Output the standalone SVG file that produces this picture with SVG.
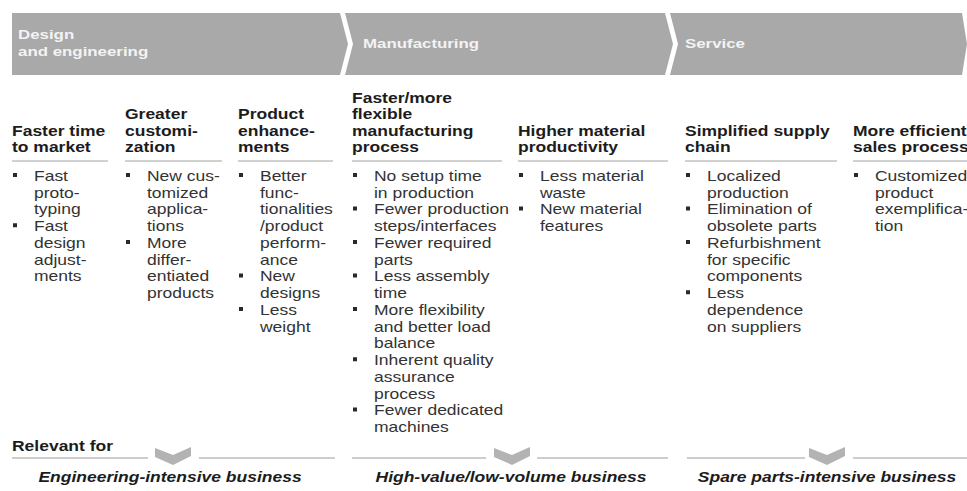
<svg xmlns="http://www.w3.org/2000/svg" width="967" height="491" viewBox="0 0 967 491">
  <style>
    .band { fill: #a9a9a9; }
    .stage { font-family: "Liberation Sans", Arial, sans-serif; font-size: 13.5px; font-weight: bold; fill: #f3f3f3; }
    .h { font-family: "Liberation Sans", Arial, sans-serif; font-size: 14px; font-weight: bold; fill: #1c1c1c; }
    .t { font-family: "Liberation Sans", Arial, sans-serif; font-size: 14px; fill: #333333; }
    .b { fill: #2a2a2a; }
    .rule { stroke: #a3a3a3; stroke-width: 1; }
    .base { stroke: #9a9a9a; stroke-width: 1; }
    .chev { fill: #b3b3b3; }
    .biz { font-family: "Liberation Sans", Arial, sans-serif; font-size: 14px; font-weight: bold; font-style: italic; fill: #1c1c1c; text-anchor: middle; }
  </style>

  <!-- value chain stages -->
  <g id="stage-design">
    <polygon class="band" points="12,13 340,13 348,44 340,75 12,75"/>
    <text class="stage" transform="translate(18 39) scale(1.25 1)">Design</text>
    <text class="stage" transform="translate(18 56) scale(1.25 1)">and engineering</text>
  </g>
  <g id="stage-manufacturing">
    <polygon class="band" points="345,13 665,13 673,44 665,75 345,75 353,44"/>
    <text class="stage" transform="translate(363 48) scale(1.25 1)">Manufacturing</text>
  </g>
  <g id="stage-service">
    <polygon class="band" points="670,13 962,13 967,44 962,75 670,75 678,44"/>
    <text class="stage" transform="translate(685 48) scale(1.25 1)">Service</text>
  </g>

  <!-- benefit columns -->
  <g id="col-time-to-market">
    <line class="rule" x1="12" y1="161" x2="108" y2="161"/>
    <g transform="translate(12 0) scale(1.25 1)">
      <text class="h"><tspan x="0" y="136">Faster time</tspan><tspan x="0" y="152.5">to market</tspan></text>
      <rect class="b" x="0.8" y="173" width="3.2" height="4"/>
      <rect class="b" x="0.8" y="223.25" width="3.2" height="4"/>
      <text class="t"><tspan x="17.6" y="181">Fast</tspan><tspan x="17.6" y="197.75">proto-</tspan><tspan x="17.6" y="214.5">typing</tspan><tspan x="17.6" y="231.25">Fast</tspan><tspan x="17.6" y="248">design</tspan><tspan x="17.6" y="264.75">adjust-</tspan><tspan x="17.6" y="281.5">ments</tspan></text>
    </g>
  </g>

  <g id="col-customization">
    <line class="rule" x1="125" y1="161" x2="222" y2="161"/>
    <g transform="translate(125 0) scale(1.25 1)">
      <text class="h"><tspan x="0" y="119.5">Greater</tspan><tspan x="0" y="136">customi-</tspan><tspan x="0" y="152.5">zation</tspan></text>
      <rect class="b" x="0.8" y="173" width="3.2" height="4"/>
      <rect class="b" x="0.8" y="240" width="3.2" height="4"/>
      <text class="t"><tspan x="17.6" y="181">New cus-</tspan><tspan x="17.6" y="197.75">tomized</tspan><tspan x="17.6" y="214.5">applica-</tspan><tspan x="17.6" y="231.25">tions</tspan><tspan x="17.6" y="248">More</tspan><tspan x="17.6" y="264.75">differ-</tspan><tspan x="17.6" y="281.5">entiated</tspan><tspan x="17.6" y="298.25">products</tspan></text>
    </g>
  </g>

  <g id="col-product-enhancements">
    <line class="rule" x1="238" y1="161" x2="333" y2="161"/>
    <g transform="translate(238 0) scale(1.25 1)">
      <text class="h"><tspan x="0" y="119.5">Product</tspan><tspan x="0" y="136">enhance-</tspan><tspan x="0" y="152.5">ments</tspan></text>
      <rect class="b" x="0.8" y="173" width="3.2" height="4"/>
      <rect class="b" x="0.8" y="273.5" width="3.2" height="4"/>
      <rect class="b" x="0.8" y="307" width="3.2" height="4"/>
      <text class="t"><tspan x="17.6" y="181">Better</tspan><tspan x="17.6" y="197.75">func-</tspan><tspan x="17.6" y="214.5">tionalities</tspan><tspan x="17.6" y="231.25">/product</tspan><tspan x="17.6" y="248">perform-</tspan><tspan x="17.6" y="264.75">ance</tspan><tspan x="17.6" y="281.5">New</tspan><tspan x="17.6" y="298.25">designs</tspan><tspan x="17.6" y="315">Less</tspan><tspan x="17.6" y="331.75">weight</tspan></text>
    </g>
  </g>

  <g id="col-flexible-manufacturing">
    <line class="rule" x1="352" y1="161" x2="502" y2="161"/>
    <g transform="translate(352 0) scale(1.25 1)">
      <text class="h"><tspan x="0" y="103">Faster/more</tspan><tspan x="0" y="119.5">flexible</tspan><tspan x="0" y="136">manufacturing</tspan><tspan x="0" y="152.5">process</tspan></text>
      <rect class="b" x="0.8" y="173" width="3.2" height="4"/>
      <rect class="b" x="0.8" y="206.5" width="3.2" height="4"/>
      <rect class="b" x="0.8" y="240" width="3.2" height="4"/>
      <rect class="b" x="0.8" y="273.5" width="3.2" height="4"/>
      <rect class="b" x="0.8" y="307" width="3.2" height="4"/>
      <rect class="b" x="0.8" y="357.25" width="3.2" height="4"/>
      <rect class="b" x="0.8" y="407.5" width="3.2" height="4"/>
      <text class="t"><tspan x="17.6" y="181">No setup time</tspan><tspan x="17.6" y="197.75">in production</tspan><tspan x="17.6" y="214.5">Fewer production</tspan><tspan x="17.6" y="231.25">steps/interfaces</tspan><tspan x="17.6" y="248">Fewer required</tspan><tspan x="17.6" y="264.75">parts</tspan><tspan x="17.6" y="281.5">Less assembly</tspan><tspan x="17.6" y="298.25">time</tspan><tspan x="17.6" y="315">More flexibility</tspan><tspan x="17.6" y="331.75">and better load</tspan><tspan x="17.6" y="348.5">balance</tspan><tspan x="17.6" y="365.25">Inherent quality</tspan><tspan x="17.6" y="382">assurance</tspan><tspan x="17.6" y="398.75">process</tspan><tspan x="17.6" y="415.5">Fewer dedicated</tspan><tspan x="17.6" y="432.25">machines</tspan></text>
    </g>
  </g>

  <g id="col-material-productivity">
    <line class="rule" x1="518" y1="161" x2="668" y2="161"/>
    <g transform="translate(518 0) scale(1.25 1)">
      <text class="h"><tspan x="0" y="136">Higher material</tspan><tspan x="0" y="152.5">productivity</tspan></text>
      <rect class="b" x="0.8" y="173" width="3.2" height="4"/>
      <rect class="b" x="0.8" y="206.5" width="3.2" height="4"/>
      <text class="t"><tspan x="17.6" y="181">Less material</tspan><tspan x="17.6" y="197.75">waste</tspan><tspan x="17.6" y="214.5">New material</tspan><tspan x="17.6" y="231.25">features</tspan></text>
    </g>
  </g>

  <g id="col-supply-chain">
    <line class="rule" x1="685" y1="161" x2="837" y2="161"/>
    <g transform="translate(685 0) scale(1.25 1)">
      <text class="h"><tspan x="0" y="136">Simplified supply</tspan><tspan x="0" y="152.5">chain</tspan></text>
      <rect class="b" x="0.8" y="173" width="3.2" height="4"/>
      <rect class="b" x="0.8" y="206.5" width="3.2" height="4"/>
      <rect class="b" x="0.8" y="240" width="3.2" height="4"/>
      <rect class="b" x="0.8" y="290.25" width="3.2" height="4"/>
      <text class="t"><tspan x="17.6" y="181">Localized</tspan><tspan x="17.6" y="197.75">production</tspan><tspan x="17.6" y="214.5">Elimination of</tspan><tspan x="17.6" y="231.25">obsolete parts</tspan><tspan x="17.6" y="248">Refurbishment</tspan><tspan x="17.6" y="264.75">for specific</tspan><tspan x="17.6" y="281.5">components</tspan><tspan x="17.6" y="298.25">Less</tspan><tspan x="17.6" y="315">dependence</tspan><tspan x="17.6" y="331.75">on suppliers</tspan></text>
    </g>
  </g>

  <g id="col-sales-process">
    <line class="rule" x1="853" y1="161" x2="967" y2="161"/>
    <g transform="translate(853 0) scale(1.25 1)">
      <text class="h"><tspan x="0" y="136">More efficient</tspan><tspan x="0" y="152.5">sales process</tspan></text>
      <rect class="b" x="0.8" y="173" width="3.2" height="4"/>
      <text class="t"><tspan x="17.6" y="181">Customized</tspan><tspan x="17.6" y="197.75">product</tspan><tspan x="17.6" y="214.5">exemplifica-</tspan><tspan x="17.6" y="231.25">tion</tspan></text>
    </g>
  </g>

  <!-- relevance row -->
  <g id="relevant-for">
    <text class="h" transform="translate(12 451) scale(1.25 1)">Relevant for</text>
  </g>

  <g id="relevance-markers">
    <line class="base" x1="12" y1="458" x2="148" y2="458"/>
    <line class="base" x1="199" y1="458" x2="335" y2="458"/>
    <line class="base" x1="352" y1="458" x2="486" y2="458"/>
    <line class="base" x1="537" y1="458" x2="668" y2="458"/>
    <line class="base" x1="687" y1="458" x2="805" y2="458"/>
    <line class="base" x1="853" y1="458" x2="967" y2="458"/>
    <path class="chev" d="M155,448 L173,455 L191,447 L191,456 L173,465 L155,457 Z"/>
    <path class="chev" d="M494,448 L512,455 L530,447 L530,456 L512,465 L494,457 Z"/>
    <path class="chev" d="M809,448 L827,455 L845,447 L845,456 L827,465 L809,457 Z"/>
  </g>

  <g id="business-engineering">
    <text class="biz" transform="translate(170 482) scale(1.25 1)">Engineering-intensive business</text>
  </g>
  <g id="business-high-value">
    <text class="biz" transform="translate(511 482) scale(1.25 1)">High-value/low-volume business</text>
  </g>
  <g id="business-spare-parts">
    <text class="biz" transform="translate(827 482) scale(1.25 1)">Spare parts-intensive business</text>
  </g>
</svg>
